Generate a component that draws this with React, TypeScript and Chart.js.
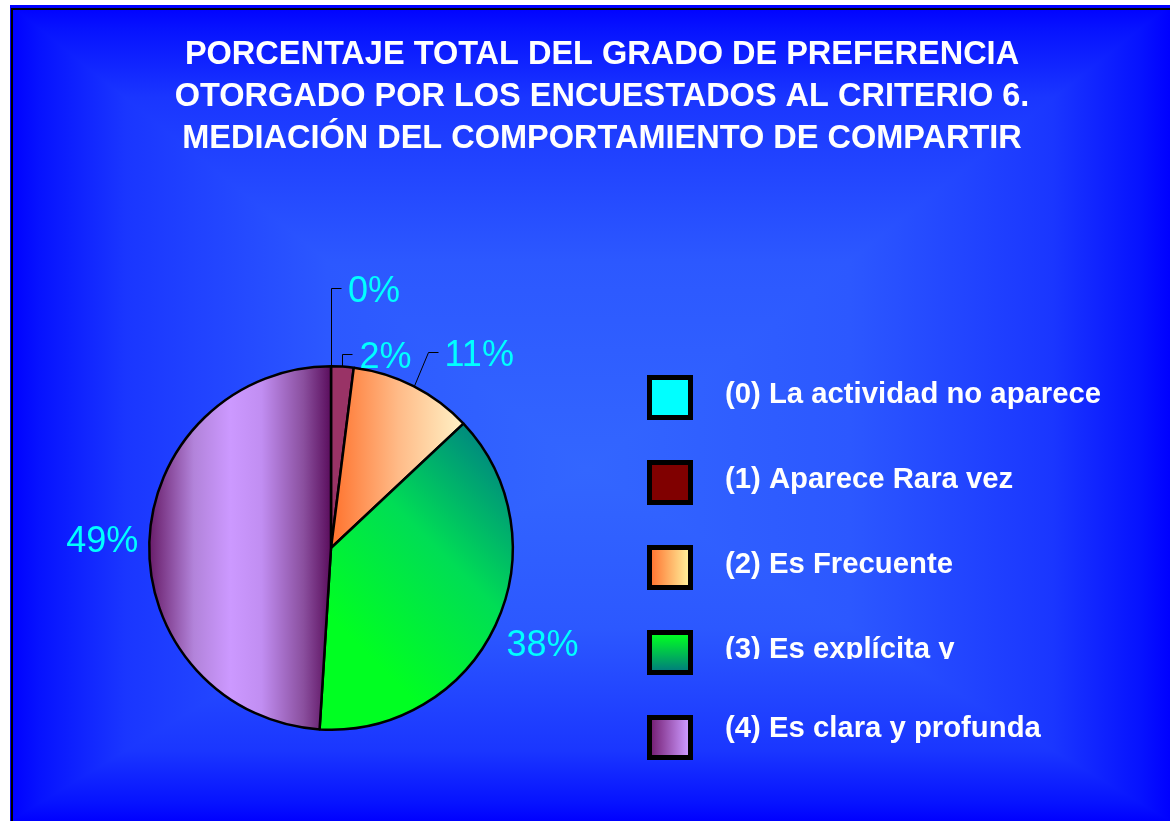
import React, { useEffect, useRef } from "react";
import { Chart, registerables } from "chart.js";

Chart.register(...registerables);

const TITLE_LINES = [
  "PORCENTAJE TOTAL DEL GRADO DE PREFERENCIA",
  "OTORGADO POR LOS ENCUESTADOS AL CRITERIO 6.",
  "MEDIACIÓN DEL COMPORTAMIENTO DE COMPARTIR",
];

const CATEGORIES = [
  "(0) La actividad no aparece",
  "(1) Aparece Rara vez",
  "(2) Es Frecuente",
  "(3) Es explícita y",
  "(4) Es clara y profunda",
];

const VALUES = [0, 2, 11, 38, 49];

const FONT = '"Liberation Sans", Arial, Helvetica, sans-serif';

function sliceFill(i: number, ctx: CanvasRenderingContext2D, cx: number, cy: number, r: number) {
  if (i === 0) return "#00ffff";
  if (i === 1) return "#993366";
  if (i === 2) {
    const g = ctx.createLinearGradient(cx + 5, 0, cx + 130, 0);
    g.addColorStop(0, "#ff7733");
    g.addColorStop(0.5, "#ffbb88");
    g.addColorStop(1, "#fff0c4");
    return g;
  }
  if (i === 3) {
    const g = ctx.createLinearGradient(cx, cy + 70, cx + 160, cy - 90);
    g.addColorStop(0, "#00ff22");
    g.addColorStop(0.55, "#00dd55");
    g.addColorStop(1, "#008f7c");
    return g;
  }
  const g = ctx.createLinearGradient(cx - r, 0, cx, 0);
  g.addColorStop(0, "#661a66");
  g.addColorStop(0.25, "#b283da");
  g.addColorStop(0.45, "#cc99ff");
  g.addColorStop(0.62, "#c18ef2");
  g.addColorStop(0.85, "#8a4f9e");
  g.addColorStop(1, "#5a0d5c");
  return g;
}

function legendFill(i: number, ctx: CanvasRenderingContext2D, x: number, y: number, w: number, h: number) {
  if (i === 0) return "#00ffff";
  if (i === 1) return "#800000";
  if (i === 2) {
    const g = ctx.createLinearGradient(x, 0, x + w, 0);
    g.addColorStop(0, "#ff7733");
    g.addColorStop(1, "#ffee99");
    return g;
  }
  if (i === 3) {
    const g = ctx.createLinearGradient(0, y, 0, y + h);
    g.addColorStop(0, "#00ff22");
    g.addColorStop(1, "#00807a");
    return g;
  }
  const g = ctx.createLinearGradient(x, 0, x + w, 0);
  g.addColorStop(0, "#772277");
  g.addColorStop(1, "#cc99ff");
  return g;
}

const backgroundPlugin = {
  id: "bgPlugin",
  beforeDraw(chart: any) {
    const ctx: CanvasRenderingContext2D = chart.ctx;
    const W = chart.width;
    const H = chart.height;
    ctx.save();
    ctx.fillStyle = "#ffffff";
    ctx.fillRect(0, 0, W, H);
    const L = 10, T = 5, R = W, B = H;
    const cx = 587, cy = 470;
    const stops: [number, string][] = [
      [0, "#3366ff"],
      [0.45, "#2c58ff"],
      [0.8, "#1a36ff"],
      [0.95, "#0612ff"],
      [1, "#0000ff"],
    ];
    ctx.beginPath();
    ctx.rect(L, T, R - L, B - T);
    ctx.clip();
    ctx.fillStyle = "#3366ff";
    ctx.fillRect(cx - 40, cy - 40, 80, 80);
    // top & bottom triangles drawn widened first, then left & right exact on top (hides seams)
    const tris: [number, number, number, number, number, number][] = [
      [L - 300, T, R + 300, T, cx, T],
      [R + 300, B, L - 300, B, cx, B],
      [R, T, R, B, R, cy],
      [L, B, L, T, L, cy],
    ];
    for (const [x1, y1, x2, y2, ex, ey] of tris) {
      ctx.beginPath();
      ctx.moveTo(cx, cy);
      ctx.lineTo(x1, y1);
      ctx.lineTo(x2, y2);
      ctx.closePath();
      const g = ctx.createLinearGradient(cx, cy, ex, ey);
      for (const [o, c] of stops) g.addColorStop(o, c);
      ctx.fillStyle = g;
      ctx.fill();
    }
    ctx.fillStyle = "#3366ff";
    ctx.fillRect(cx - 2, cy - 2, 4, 4);
    ctx.restore();
    ctx.save();
    ctx.fillStyle = "#000000";
    ctx.fillRect(11, 8, W - 11, 2);
    ctx.fillRect(11, 8, 2, H - 8);
    ctx.restore();
  },
  afterDraw(chart: any) {
    const ctx: CanvasRenderingContext2D = chart.ctx;
    ctx.save();
    // title
    ctx.fillStyle = "#ffffff";
    ctx.font = `bold 32.5px ${FONT}`;
    ctx.textAlign = "center";
    ctx.textBaseline = "alphabetic";
    TITLE_LINES.forEach((t, i) => ctx.fillText(t, 602, 64 + i * 42));

    // data labels
    const meta = chart.getDatasetMeta(0);
    const total = VALUES.reduce((a, b) => a + b, 0);
    ctx.font = `36px ${FONT}`;
    ctx.strokeStyle = "#000000";
    ctx.lineWidth = 1;
    meta.data.forEach((arc: any, i: number) => {
      const p = arc.getProps(["x", "y", "startAngle", "endAngle", "outerRadius"], true);
      const mid = (p.startAngle + p.endAngle) / 2;
      const ax = p.x + p.outerRadius * Math.cos(mid);
      const ay = p.y + p.outerRadius * Math.sin(mid);
      const txt = `${Math.round((VALUES[i] / total) * 100)}%`;
      ctx.fillStyle = "#00ffff";
      if (i <= 2) {
        const leader = [
          [0, -78],
          [0, -13],
          [14, -34],
        ][i];
        const ex = ax + leader[0];
        const ey = ay + leader[1];
        ctx.beginPath();
        ctx.moveTo(Math.round(ax) + 0.5, ay);
        ctx.lineTo(Math.round(ex) + 0.5, Math.round(ey) + 0.5);
        ctx.lineTo(Math.round(ex) + 10.5, Math.round(ey) + 0.5);
        ctx.stroke();
        ctx.textAlign = "left";
        ctx.fillText(txt, ex + 17, ey + 14);
      } else if (Math.cos(mid) >= 0) {
        ctx.textAlign = "left";
        ctx.fillText(txt, ax + 11, ay + 31);
      } else {
        ctx.textAlign = "right";
        ctx.fillText(txt, ax - 11, ay + 10);
      }
    });

    // legend
    ctx.font = `bold 29.3px ${FONT}`;
    ctx.textAlign = "left";
    CATEGORIES.forEach((c, i) => {
      const bx = 647, by = 375 + i * 85, bw = 46, bh = 45;
      ctx.fillStyle = "#000000";
      ctx.fillRect(bx, by, bw, bh);
      ctx.fillStyle = legendFill(i, ctx, bx + 5, by + 5, bw - 10, bh - 10);
      ctx.fillRect(bx + 5, by + 5, bw - 10, bh - 10);
      const base = i === 4 ? by + 22 : by + 28;
      ctx.save();
      if (i === 3) {
        ctx.beginPath();
        ctx.rect(700, by - 10, 400, 39);
        ctx.clip();
      }
      ctx.fillStyle = "#ffffff";
      ctx.fillText(c, 725, base);
      ctx.restore();
    });
    ctx.restore();
  },
};

export default function App() {
  const ref = useRef<HTMLCanvasElement | null>(null);
  useEffect(() => {
    if (!ref.current) return;
    const chart = new Chart(ref.current, {
      type: "pie",
      data: {
        labels: CATEGORIES,
        datasets: [
          {
            data: VALUES,
            backgroundColor: (c: any) => {
              const ch = c.chart;
              const a = ch.chartArea;
              if (!a) return "#888888";
              const cx = (a.left + a.right) / 2;
              const cy = (a.top + a.bottom) / 2;
              const r = Math.min(a.right - a.left, a.bottom - a.top) / 2;
              return sliceFill(c.dataIndex, ch.ctx, cx, cy, r);
            },
            borderColor: "#000000",
            borderWidth: 2.5,
          },
        ],
      },
      options: {
        responsive: false,
        animation: false,
        layout: { padding: { left: 148, right: 656, top: 365, bottom: 90 } },
        plugins: {
          legend: { display: false },
          title: { display: false },
          tooltip: { enabled: false },
        },
      },
      plugins: [backgroundPlugin],
    });
    return () => chart.destroy();
  }, []);
  return (
    <div style={{ position: "absolute", left: 0, top: 0, width: 1170, height: 821 }}>
      <canvas ref={ref} width={1170} height={821} style={{ display: "block" }} />
    </div>
  );
}
